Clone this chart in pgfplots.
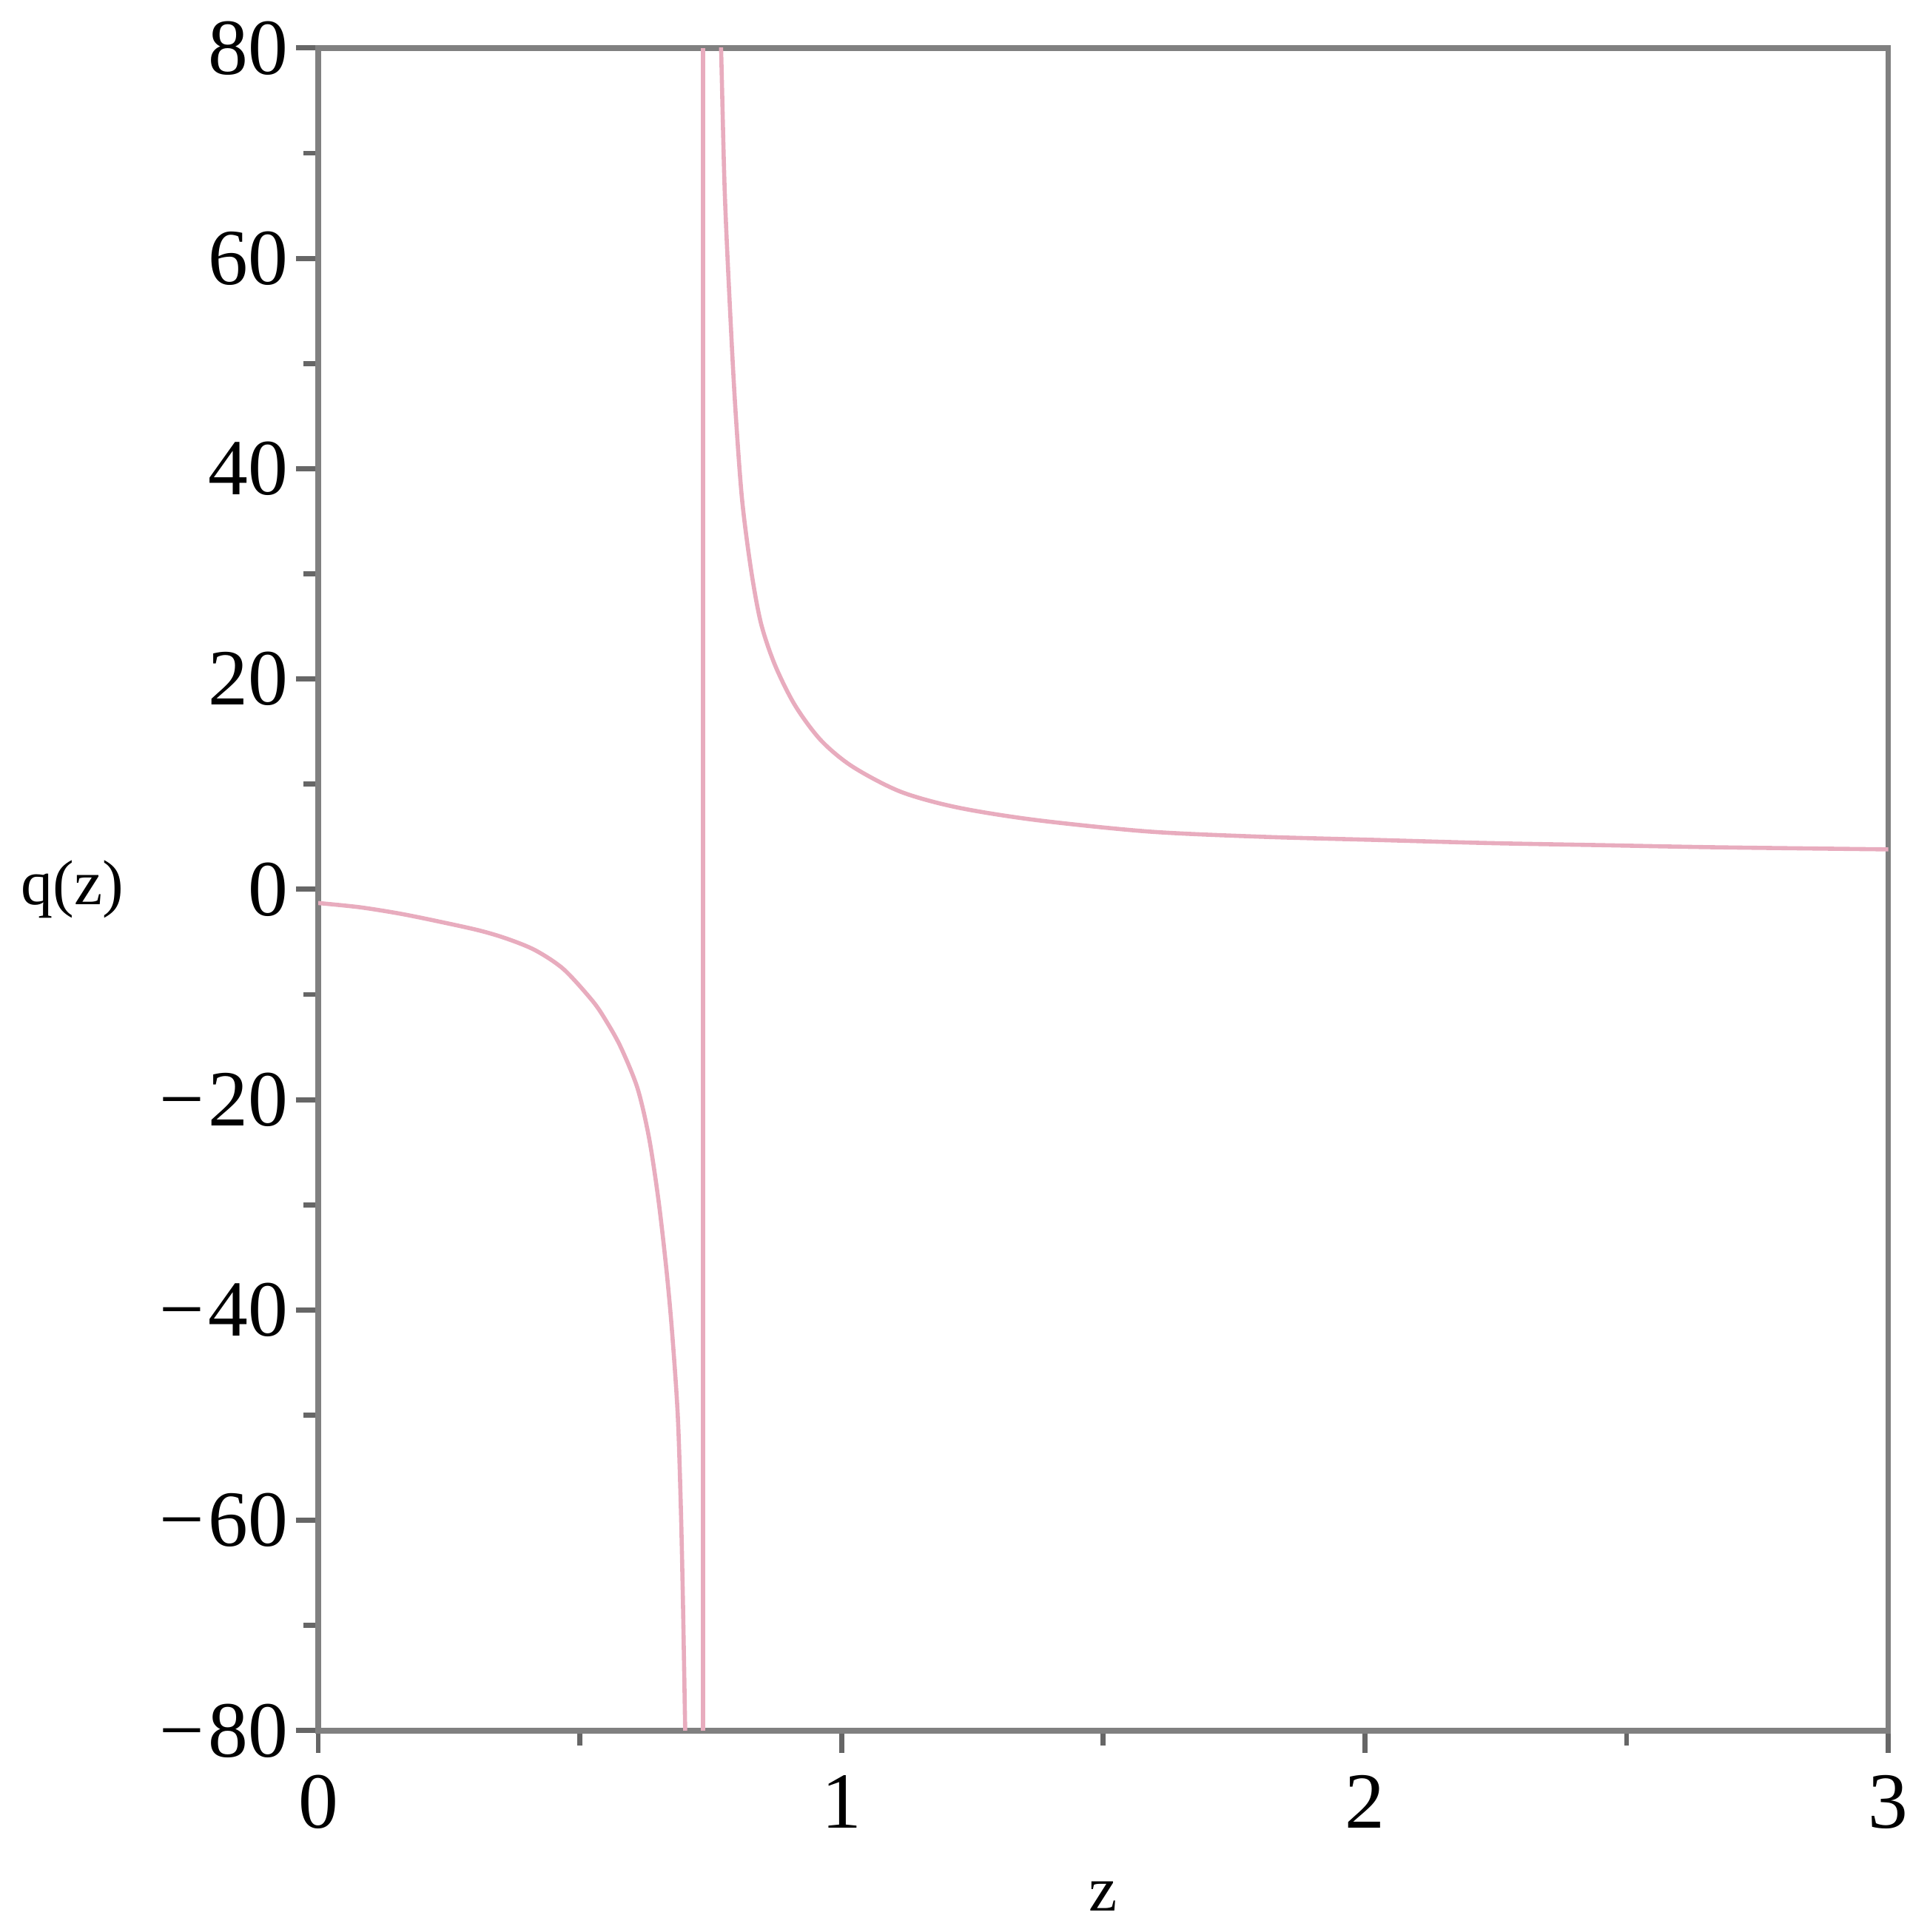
\documentclass[border=0pt]{standalone}
\usepackage{fontspec}
\setmainfont{Liberation Serif}
\usepackage{pgfplots}
\pgfplotsset{compat=1.18}

\definecolor{curve}{RGB}{232,172,190}
\definecolor{frame}{RGB}{128,128,128}

\begin{document}
\begin{tikzpicture}
\begin{axis}[
    name=ax,
    scale only axis,
    width=246.6pt, height=264.3pt,
    xmin=0, xmax=3, ymin=-80, ymax=80,
    xtick={0,1,2,3}, xticklabels={0,1,2,3},
    ytick={-80,-60,-40,-20,0,20,40,60,80},
    yticklabels={−\kern0.6pt80,−\kern0.6pt60,−\kern0.6pt40,−\kern0.6pt20,0,20,40,60,80},
    minor x tick num=1, minor y tick num=1,
    tick pos=left, tick align=outside,
    major tick length=3.5pt, minor tick length=2.3pt,
    tick style={black!60, line width=0.8pt},
    axis line style={frame, line width=0.9pt},
    tick label style={font=\fontsize{12.5}{14}\selectfont},
    yticklabel style={xshift=2.3pt},
    /pgf/number format/assume math mode=true,
    xlabel={z}, ylabel={q(z)},
    every axis x label/.style={at={(rel axis cs:0.5,0)}, anchor=center, yshift=-26pt, font=\fontsize{10}{12}\selectfont},
    every axis y label/.style={at={(rel axis cs:0,0.5)}, anchor=center, xshift=-38.6pt, font=\fontsize{10}{12}\selectfont},
]
% left branch
\addplot[curve, line width=0.65pt, smooth] coordinates {
    (0,-1.3) (0.079,-1.7) (0.155,-2.3) (0.225,-3.0) (0.307,-3.9) (0.361,-4.7)
    (0.415,-5.8) (0.469,-7.6) (0.524,-10.6) (0.550,-12.5) (0.578,-15.0)
    (0.610,-18.9) (0.632,-23.6) (0.650,-29.5) (0.665,-36) (0.676,-42)
    (0.687,-50) (0.693,-59) (0.697,-68) (0.701,-79.4) (0.703,-86)
};
% jump across the pole
\addplot[curve, line width=0.65pt] coordinates {(0.735,-80) (0.735,80)};
% right branch
\addplot[curve, line width=0.65pt, smooth] coordinates {
    (0.766,86) (0.770,79.5) (0.777,66) (0.789,53) (0.798,45)
    (0.810,37) (0.827,30.4) (0.846,25.3) (0.873,21.3) (0.911,17.5)
    (0.960,14.2) (1.020,11.7) (1.112,9.3) (1.220,7.8) (1.370,6.6)
    (1.586,5.5) (1.803,5.0) (2.020,4.7) (2.237,4.4) (2.453,4.2)
    (2.670,4.0) (3.0,3.8)
};
\end{axis}
\path ([xshift=-49.2pt,yshift=-30.4pt]ax.south west) rectangle ([xshift=4.8pt,yshift=7.5pt]ax.north east);
\end{tikzpicture}
\end{document}
